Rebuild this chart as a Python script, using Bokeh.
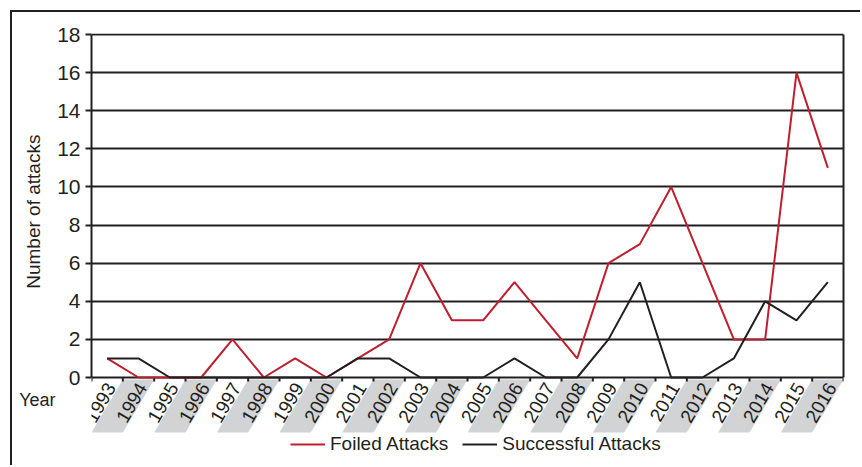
import math
from bokeh.plotting import figure
from bokeh.models import (Range1d, FixedTicker, Legend, LegendItem, LinearAxis)
from bokeh.embed import file_html
from bokeh.resources import INLINE

# ---- data ----
years = [1993, 1994, 1995, 1996, 1997, 1998, 1999, 2000, 2001, 2002, 2003, 2004,
         2005, 2006, 2007, 2008, 2009, 2010, 2011, 2012, 2013, 2014, 2015, 2016]
year_labels = ["1993", "1994", "1995", "1996", "1997", "1998", "1999", "2000",
               "2001", "2002", "2003", "2004", "2005", "2006", "2007", "2008",
               "2009", "2010", "2011", "2012", "2013", "2014", "2015", "2016"]
foiled = [1, 0, 0, 0, 2, 0, 1, 0, 1, 2, 6, 3, 3, 5, 3, 1, 6, 7, 10, 6, 2, 2, 16, 11]
successful = [1, 1, 0, 0, 0, 0, 0, 0, 1, 1, 0, 0, 0, 1, 0, 0, 2, 5, 0, 0, 1, 4, 3, 5]
y_ticks = [0, 2, 4, 6, 8, 10, 12, 14, 16, 18]

INK = "#231f20"
RED = "#be1e2d"
BAND = "#d1d3d4"
FONT = "Liberation Sans"

p = figure(width=850, height=455, output_backend="svg", toolbar_location=None,
           x_axis_location=None,
           x_range=Range1d(1992.5, 2016.5), y_range=Range1d(-4.723, 18.0525),
           min_border_left=79, min_border_right=19, min_border_top=21,
           min_border_bottom=0)
p.styles = {"border-top": "2px solid #231f20", "border-left": "2px solid #231f20",
            "margin-top": "10px", "margin-left": "10px"}
p.background_fill_color = "white"
p.border_fill_color = "white"
p.outline_line_color = None

p.xgrid.visible = False
p.ygrid.ticker = FixedTicker(ticks=y_ticks)
p.ygrid.grid_line_color = INK
p.ygrid.grid_line_width = 2
p.ygrid.grid_line_alpha = 1

# main y axis
ya = p.yaxis[0]
ya.ticker = FixedTicker(ticks=y_ticks)
ya.bounds = (0, 18)
ya.major_label_text_font = FONT
ya.major_label_text_font_size = "21px"
ya.major_label_text_color = INK
ya.major_label_standoff = 5
ya.axis_line_color = INK
ya.axis_line_width = 2
ya.major_tick_line_color = INK
ya.major_tick_line_width = 2
ya.major_tick_out = 6
ya.major_tick_in = 0
ya.minor_tick_line_color = None

# axis title, set at mid-height of the 0-18 scale
ya_title = LinearAxis(ticker=FixedTicker(ticks=[8.7]),
                      major_label_overrides={8.7: "Number of attacks"},
                      major_label_orientation="vertical",
                      major_label_text_font=FONT, major_label_text_font_size="19px",
                      major_label_text_color=INK, major_label_standoff=10,
                      axis_line_color=None, major_tick_line_color=None,
                      minor_tick_line_color=None, major_tick_out=0, major_tick_in=0)
p.add_layout(ya_title, "left")

# "Year" caption next to the year labels
ya_year = LinearAxis(ticker=FixedTicker(ticks=[-1.155]),
                     major_label_overrides={-1.155: "Year"},
                     major_label_text_font=FONT, major_label_text_font_size="18px",
                     major_label_text_color=INK, major_label_standoff=-35,
                     axis_line_color=None, major_tick_line_color=None,
                     minor_tick_line_color=None, major_tick_out=0, major_tick_in=0)
p.add_layout(ya_year, "left")

# right frame edge
ya_r = LinearAxis(ticker=FixedTicker(ticks=[]), bounds=(0, 18),
                  axis_line_color=INK, axis_line_width=2,
                  major_tick_line_color=None, minor_tick_line_color=None,
                  major_label_text_font_size="0px", major_tick_out=0, major_tick_in=0)
p.add_layout(ya_r, "right")

# slanted shaded bands behind even-year labels
bx, by = [], []
for yr in years:
    if yr % 2 == 0:
        bx.append([yr - 0.5, yr + 0.5, yr + 0.5 - 1.0, yr - 0.5 - 1.0])
        by.append([-0.105, -0.105, -2.886, -2.886])
p.patches(bx, by, fill_color=BAND, line_color=None)

# category boundary ticks under the zero line
bounds_x = [yr - 0.5 for yr in years] + [years[-1] + 0.5]
p.segment(x0=bounds_x, y0=[0] * len(bounds_x), x1=bounds_x,
          y1=[-0.21] * len(bounds_x), line_color=INK, line_width=2)

# rotated year labels
p.text(x=[yr + 0.12 for yr in years], y=[-0.36] * len(years), text=year_labels,
       angle=math.pi / 3, text_align="right", text_baseline="middle",
       text_font={"value": FONT}, text_font_size={"value": "19px"},
       text_color=INK)

r_f = p.line(years, foiled, line_color=RED, line_width=2)
r_s = p.line(years, successful, line_color=INK, line_width=2)

legend = Legend(items=[LegendItem(label="Foiled Attacks", renderers=[r_f]),
                       LegendItem(label="Successful Attacks", renderers=[r_s])],
                orientation="horizontal", location=(199, 12),
                glyph_width=35, glyph_height=20, label_height=20,
                label_standoff=5, spacing=14, padding=0, margin=0,
                border_line_color=None, background_fill_alpha=0,
                label_text_font=FONT, label_text_font_size="19px",
                label_text_color=INK)
p.add_layout(legend, "center")

open("out.html", "w").write(file_html(p, INLINE))
